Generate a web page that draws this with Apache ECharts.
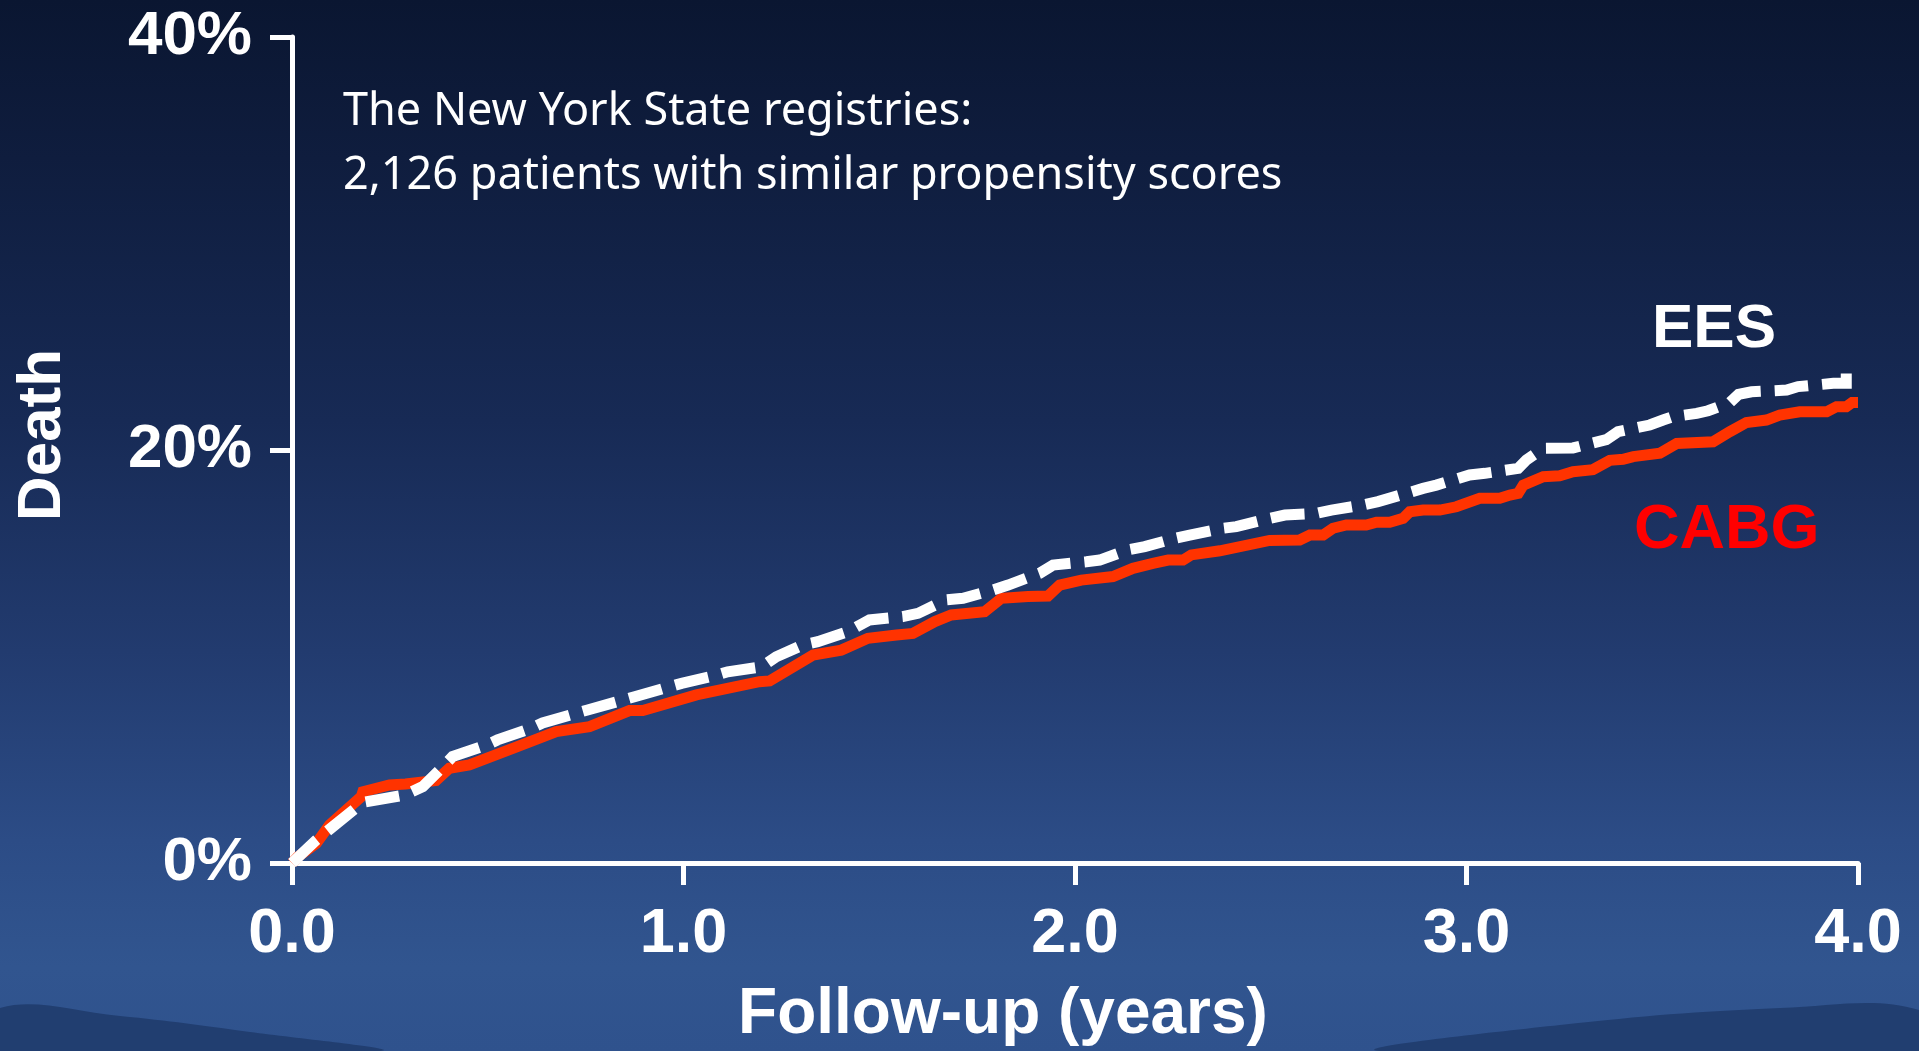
<!DOCTYPE html>
<html>
<head>
<meta charset="utf-8">
<script src="https://cdn.jsdelivr.net/npm/echarts@6/dist/echarts.min.js"></script>
<style>
html,body{margin:0;padding:0;width:1919px;height:1051px;overflow:hidden;}
#chart{width:1919px;height:1051px;background:linear-gradient(to bottom,#0a1631 0%,#0f1d3e 15%,#172a55 40%,#223b6f 62%,#2c4c86 80%,#31558f 92%,#2f528d 100%);}
</style>
</head>
<body>
<div id="chart"></div>
<script>
// ---- data (years of follow-up, cumulative death %) ----
const cabgYears = [0, 0.015, 0.062, 0.096, 0.177, 0.181, 0.249, 0.29, 0.368, 0.402, 0.453, 0.564, 0.675, 0.76, 0.862, 0.896, 1.033, 1.194, 1.22, 1.331, 1.403, 1.471, 1.544, 1.586, 1.642, 1.684, 1.769, 1.812, 1.88, 1.931, 1.961, 2.016, 2.097, 2.148, 2.199, 2.238, 2.276, 2.297, 2.37, 2.497, 2.574, 2.6, 2.634, 2.659, 2.693, 2.744, 2.77, 2.804, 2.838, 2.855, 2.889, 2.932, 2.974, 3.034, 3.085, 3.111, 3.132, 3.145, 3.196, 3.238, 3.272, 3.323, 3.366, 3.4, 3.426, 3.494, 3.537, 3.63, 3.673, 3.715, 3.766, 3.8, 3.851, 3.92, 3.945, 3.97, 3.985, 4.0];
const cabgDeath = [0, 0.3, 0.95, 1.84, 3.21, 3.45, 3.78, 3.83, 4.0, 4.59, 4.75, 5.55, 6.36, 6.6, 7.38, 7.38, 8.14, 8.78, 8.82, 10.07, 10.31, 10.88, 11.04, 11.12, 11.69, 12.01, 12.17, 12.82, 12.9, 12.93, 13.46, 13.7, 13.87, 14.27, 14.51, 14.67, 14.67, 14.92, 15.12, 15.62, 15.64, 15.88, 15.88, 16.21, 16.37, 16.37, 16.5, 16.5, 16.69, 17.01, 17.09, 17.09, 17.25, 17.66, 17.66, 17.82, 17.9, 18.3, 18.71, 18.75, 18.95, 19.05, 19.5, 19.55, 19.68, 19.84, 20.32, 20.4, 20.89, 21.33, 21.45, 21.69, 21.85, 21.85, 22.1, 22.1, 22.3, 22.3];

const eesYears = [0, 0.062, 0.172, 0.185, 0.287, 0.334, 0.385, 0.41, 0.497, 0.525, 0.612, 0.64, 0.727, 0.755, 0.845, 0.875, 0.965, 0.995, 1.085, 1.113, 1.2, 1.237, 1.305, 1.343, 1.42, 1.458, 1.475, 1.56, 1.599, 1.671, 1.714, 1.79, 1.829, 1.91, 1.944, 2.029, 2.063, 2.135, 2.178, 2.255, 2.293, 2.378, 2.412, 2.497, 2.536, 2.617, 2.655, 2.736, 2.774, 2.889, 2.923, 3.008, 3.047, 3.132, 3.153, 3.196, 3.272, 3.357, 3.387, 3.468, 3.502, 3.527, 3.588, 3.617, 3.673, 3.695, 3.728, 3.818, 3.847, 3.937, 3.97, 3.97];
const eesDeath = [0, 1.11, 2.8, 2.95, 3.29, 3.7, 4.66, 5.15, 5.71, 5.96, 6.53, 6.78, 7.26, 7.41, 7.89, 8.05, 8.54, 8.7, 9.1, 9.26, 9.5, 9.99, 10.56, 10.72, 11.2, 11.6, 11.77, 11.93, 12.09, 12.74, 12.82, 13.22, 13.46, 14.03, 14.43, 14.59, 14.67, 15.16, 15.32, 15.72, 15.88, 16.21, 16.29, 16.69, 16.85, 16.93, 17.09, 17.34, 17.5, 18.14, 18.3, 18.79, 18.87, 19.11, 19.52, 20.08, 20.1, 20.5, 20.89, 21.21, 21.45, 21.61, 21.77, 21.9, 22.3, 22.7, 22.82, 22.9, 23.07, 23.23, 23.23, 23.75];

const xTicks = [0, 1, 2, 3, 4];      // labels 0.0 ... 4.0
const yTicks = [0, 20, 40];          // labels 0% 20% 40%
const seriesNames = ['CABG', 'EES'];
const noteLines = ['The New York State registries:', '2,126 patients with similar propensity scores'];

const chart = echarts.init(document.getElementById('chart'), null, {renderer: 'canvas'});
const pair = (xs, ys) => xs.map((x, i) => [x, ys[i]]);
const boldFont = "'Liberation Sans', Arial, sans-serif";

chart.setOption({
  backgroundColor: 'transparent',
  animation: false,
  grid: {left: 292, top: 37, width: 1566, height: 826, containLabel: false, outerBoundsMode: 'none'},
  xAxis: {
    type: 'value', min: xTicks[0], max: xTicks[xTicks.length - 1], interval: 1,
    name: 'Follow-up (years)', nameLocation: 'middle', nameGap: 120,
    nameTextStyle: {color: '#fff', fontSize: 64, fontWeight: 'bold', fontFamily: boldFont, padding: [0, 144, 0, 0]},
    axisLine: {show: true, lineStyle: {color: '#fff', width: 5}},
    axisTick: {show: true, length: 22, lineStyle: {color: '#fff', width: 5}},
    axisLabel: {color: '#fff', fontSize: 63, fontWeight: 'bold', fontFamily: boldFont, margin: 40,
      formatter: v => v.toFixed(1)},
    splitLine: {show: false}
  },
  yAxis: {
    type: 'value', min: yTicks[0], max: yTicks[yTicks.length - 1], interval: 20,
    name: 'Death', nameLocation: 'middle', nameGap: 218, nameRotate: 90,
    nameTextStyle: {color: '#fff', fontSize: 62, fontWeight: 'bold', fontFamily: boldFont, padding: [0, 0, 0, 30]},
    axisLine: {show: true, lineStyle: {color: '#fff', width: 5}},
    axisTick: {show: true, length: 22, lineStyle: {color: '#fff', width: 5}},
    axisLabel: {color: '#fff', fontSize: 62, fontWeight: 'bold', fontFamily: boldFont, margin: 40,
      formatter: v => v + '%'},
    splitLine: {show: false}
  },
  graphic: [
    {type: 'polygon', z: -10, silent: true,
     shape: {points: [[0, 1008], [120, 1016], [250, 1032], [380, 1051], [0, 1051]], smooth: 0.4},
     style: {fill: '#213e70'}},
    {type: 'polygon', z: -10, silent: true,
     shape: {points: [[1380, 1051], [1560, 1025], [1780, 1008], [1919, 1010], [1919, 1051]], smooth: 0.4},
     style: {fill: '#213e70'}},
    {type: 'text', left: 343, top: 90, z: 10,
     style: {text: noteLines[0], fill: '#fff', font: "45px 'Noto Sans', sans-serif"}},
    {type: 'text', left: 343, top: 154, z: 10,
     style: {text: noteLines[1], fill: '#fff', font: "45px 'Noto Sans', sans-serif"}},
    {type: 'text', left: 1652, top: 299, z: 10,
     style: {text: seriesNames[1], fill: '#ffffff', font: "bold 62px 'Liberation Sans', Arial, sans-serif"}},
    {type: 'text', left: 1634, top: 499, z: 10,
     style: {text: seriesNames[0], fill: '#ff0000', font: "bold 63px 'Liberation Sans', Arial, sans-serif"}}
  ],
  series: [
    {name: seriesNames[0], type: 'line', data: pair(cabgYears, cabgDeath), showSymbol: false, symbol: 'none',
     lineStyle: {color: '#ff3300', width: 11, cap: 'butt', join: 'miter'}, z: 3},
    {name: seriesNames[1], type: 'line', data: pair(eesYears, eesDeath), showSymbol: false, symbol: 'none',
     lineStyle: {color: '#ffffff', width: 11, type: [34, 14], cap: 'butt', join: 'miter'}, z: 4}
  ]
});
</script>
</body>
</html>
